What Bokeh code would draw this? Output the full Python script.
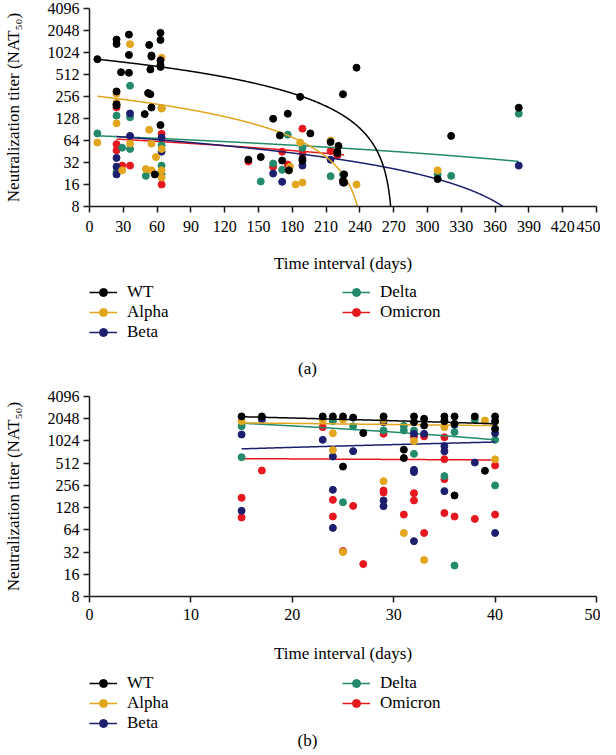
import numpy as np
from bokeh.plotting import figure
from bokeh.layouts import column
from bokeh.models import (Range1d, FixedTicker, Legend, LegendItem, Label,
                          NumeralTickFormatter)
from bokeh.embed import file_html
from bokeh.resources import INLINE

FONT = "Liberation Serif"
series_names = ["WT", "Alpha", "Beta", "Delta", "Omicron"]
series_colors = ["#000000", "#E2A51E", "#1C1F6E", "#238A6C", "#E6171E"]

y_ticks = [8, 16, 32, 64, 128, 256, 512, 1024, 2048, 4096]
a_x_ticks = [0, 30, 60, 90, 120, 150, 180, 210, 240, 270, 300, 330, 360, 390, 420, 450]
b_x_ticks = [0, 10, 20, 30, 40, 50]

# ---------------- panel (a) ----------------
a_wt_x = [7, 24, 24, 35, 35, 28, 35, 24, 24, 24, 53, 55, 55, 54, 52, 54, 55, 49, 58,
          63, 63, 63, 63, 63, 63, 141, 152, 163, 169, 176, 171, 177, 187, 189, 189,
          196, 214, 221, 220, 220, 226, 226, 225, 237, 225, 309, 321, 381]
a_wt_y = [830, 1540, 1340, 1800, 950, 550, 540, 300, 193, 200, 1300, 930, 900, 600, 285, 275, 181, 147, 22,
          1900, 1520, 800, 690, 650, 104, 35, 38, 127, 75, 149, 34, 25, 253, 36, 34,
          80, 61, 54, 43, 45, 22, 17, 18, 635, 275, 19, 74, 180]
a_alpha_x = [7, 24, 24, 24, 29, 36, 36, 53, 50, 55, 55, 59, 64, 64, 64, 64, 64,
             178, 177, 183, 187, 189, 214, 225, 237, 309]
a_alpha_y = [60, 110, 280, 210, 25, 1330, 58, 90, 26, 58, 25, 38, 870, 175, 49, 25, 20,
             28, 25, 16, 60, 17, 64, 18, 16, 25]
a_beta_x = [24, 24, 24, 36, 36, 64, 64, 64, 163, 171, 189, 214, 225, 381]
a_beta_y = [37, 28, 22, 150, 74, 177, 70, 45, 22.6, 17.4, 29, 35, 17, 29]
a_delta_x = [7, 24, 24, 29, 36, 36, 36, 50, 64, 64, 64, 152, 163, 171, 176, 189, 214, 225, 309, 321, 381]
a_delta_y = [80, 140, 24, 51, 360, 133, 49, 21, 55, 29, 22, 17.6, 31, 25.4, 77, 51, 20.8, 22, 22, 21, 149]
a_omicron_x = [24, 24, 24, 29, 36, 64, 64, 141, 163, 171, 176, 189, 189, 214, 220, 226]
a_omicron_y = [181, 57, 47, 29, 29, 79, 16, 33, 28, 45, 30, 93, 43, 46, 40, 17]

# fitted lines (linear fit in titer units): start day, end day, intercept, slope
a_fit_start = [7, 7, 24, 7, 24]
a_fit_end = [381, 309, 381, 381, 226]
a_fit_intercept = [850, 266, 77, 75, 70]
a_fit_slope = [-3.15, -1.085, -0.188, -0.11, -0.13]

# ---------------- panel (b) ----------------
b_wt_x = [15, 17, 23, 24, 25, 25, 26, 27, 29, 31, 31, 32, 32, 33, 33, 35, 35, 36, 36, 36, 38, 39, 40, 40, 40]
b_wt_y = [2200, 2200, 2200, 2200, 2200, 460, 2120, 1310, 2200, 780, 600, 2200, 1840, 2050, 1660,
          2200, 1900, 2200, 1750, 187, 2200, 404, 2200, 1900, 1500]
b_alpha_x = [15, 23, 24, 24, 25, 25, 29, 29, 31, 32, 33, 35, 35, 39, 40, 40]
b_alpha_y = [1900, 1950, 1300, 770, 2000, 32, 1990, 292, 58, 1020, 25, 1940, 1575, 1940, 1850, 577]
b_beta_x = [15, 15, 17, 23, 24, 24, 24, 26, 29, 29, 29, 32, 32, 32, 32, 33, 35, 35, 35, 36, 38, 40, 40]
b_beta_y = [1250, 116, 2000, 1060, 630, 223, 68, 745, 1830, 160, 134, 1280, 416, 388, 45, 1280,
            870, 740, 214, 1700, 523, 1300, 58]
b_delta_x = [15, 15, 24, 25, 26, 29, 31, 31, 32, 32, 35, 36, 36, 38, 40, 40]
b_delta_y = [1620, 617, 1900, 151, 1620, 1420, 1640, 1420, 1420, 685, 342, 1350, 21, 1990, 1060, 256]
b_omicron_x = [15, 15, 17, 23, 24, 24, 25, 26, 27, 29, 29, 29, 31, 32, 32, 32, 33, 33,
               35, 35, 35, 35, 36, 38, 40, 40]
b_omicron_y = [174, 94, 407, 1575, 163, 97, 33, 135, 22, 1280, 218, 205, 103, 1180, 201, 160, 1180, 58,
               1150, 580, 311, 108, 97, 90, 477, 103]

b_fit_start = [15, 15, 15, 15, 15]
b_fit_end = [40, 40, 40, 40, 40]
b_fit_intercept = [2438, 1890, 686, 2212, 605]
b_fit_slope = [-17.2, -6.0, 7.6, -28.8, -1.0]

W = 600
LEFT = 82


def style_axis(ax):
    ax.axis_line_width = 1.5
    ax.axis_line_color = "#1a1a1a"
    ax.major_tick_line_width = 1.5
    ax.major_tick_line_color = "#1a1a1a"
    ax.major_tick_out = 6
    ax.major_tick_in = 0
    ax.minor_tick_line_color = None
    ax.major_label_text_font = FONT
    ax.major_label_text_font_size = "16px"
    ax.major_label_text_color = "black"
    ax.axis_label_text_font = FONT
    ax.axis_label_text_font_size = "17px"
    ax.axis_label_text_font_style = "normal"
    ax.axis_label_text_color = "black"


def make_chart(xs_list, ys_list, fit_start, fit_end, fit_a, fit_b, x_max, x_ticks,
               height, top, frame_w, frame_h, tick_standoff, lab_standoff):
    p = figure(width=W, height=height, output_backend="svg", toolbar_location=None,
               y_axis_type="log", x_range=Range1d(0, x_max), y_range=Range1d(8, 4096),
               min_border_left=LEFT, min_border_top=top,
               min_border_right=W - LEFT - frame_w,
               min_border_bottom=height - top - frame_h)
    p.outline_line_color = None
    p.xgrid.grid_line_color = None
    p.ygrid.grid_line_color = None
    p.background_fill_color = None
    p.border_fill_color = "white"
    style_axis(p.xaxis[0])
    style_axis(p.yaxis[0])
    p.xaxis.ticker = FixedTicker(ticks=x_ticks)
    p.yaxis.ticker = FixedTicker(ticks=y_ticks)
    p.yaxis.formatter = NumeralTickFormatter(format="0")
    p.xaxis.axis_label = "Time interval (days)"
    p.yaxis.axis_label = "Neutralization titer (NAT\u2085\u2080)"
    p.xaxis.major_label_standoff = tick_standoff
    p.yaxis.major_label_standoff = 4
    p.xaxis.axis_label_standoff = lab_standoff
    p.yaxis.axis_label_standoff = 22

    for i in range(len(series_names))[::-1]:
        xs = np.linspace(fit_start[i], fit_end[i], 800)
        ys = fit_a[i] + fit_b[i] * xs
        keep = ys > 1.0
        p.line(xs[keep], ys[keep], line_color=series_colors[i], line_width=1.5)
        p.scatter(xs_list[i], ys_list[i], size=7, marker="circle",
                  fill_color=series_colors[i], line_color=series_colors[i])
    return p


def make_legend(xs_list, ys_list, height, leg1_loc, leg2_loc, caption, cap_x, cap_y):
    # legend strip: the series are plotted outside this strip's visible range, so only
    # the legend entries and the caption show
    q = figure(width=W, height=height, output_backend="svg", toolbar_location=None,
               x_range=Range1d(-2, -1), y_range=Range1d(-2, -1),
               x_axis_location=None, y_axis_location=None,
               min_border=0, min_border_left=0, min_border_right=0,
               min_border_top=0, min_border_bottom=0)
    q.grid.visible = False
    q.outline_line_color = None
    rends = []
    for i in range(len(series_names)):
        lr = q.line(xs_list[i], ys_list[i], line_color=series_colors[i], line_width=1.5)
        sr = q.scatter(xs_list[i], ys_list[i], size=7, marker="circle",
                       fill_color=series_colors[i], line_color=series_colors[i])
        rends.append([lr, sr])

    def mk(idx, loc):
        items = [LegendItem(label=series_names[i], renderers=rends[i], index=0) for i in idx]
        lg = Legend(items=items, location=loc, orientation="vertical",
                    glyph_width=28, glyph_height=20, label_height=20, label_standoff=10,
                    spacing=0, padding=0, margin=0,
                    border_line_alpha=0, background_fill_alpha=0,
                    label_text_font=FONT, label_text_font_size="17px",
                    label_text_color="black")
        q.add_layout(lg, "center")

    mk([0, 1, 2], leg1_loc)
    mk([3, 4], leg2_loc)
    q.add_layout(Label(x=cap_x, y=cap_y, x_units="screen", y_units="screen", text=caption,
                       text_font=FONT, text_font_size="17px", text_align="center",
                       text_baseline="middle", text_color="black"), "center")
    return q


a_xs = [a_wt_x, a_alpha_x, a_beta_x, a_delta_x, a_omicron_x]
a_ys = [a_wt_y, a_alpha_y, a_beta_y, a_delta_y, a_omicron_y]
b_xs = [b_wt_x, b_alpha_x, b_beta_x, b_delta_x, b_omicron_x]
b_ys = [b_wt_y, b_alpha_y, b_beta_y, b_delta_y, b_omicron_y]

p1 = make_chart(a_xs, a_ys, a_fit_start, a_fit_end, a_fit_intercept, a_fit_slope,
                450, a_x_ticks, 280, 8, 514, 198, 8, 19)
l1 = make_legend(a_xs, a_ys, 98, (0, 36), (253, 56), "(a)", 218, 10)

p2 = make_chart(b_xs, b_ys, b_fit_start, b_fit_end, b_fit_intercept, b_fit_slope,
                50, b_x_ticks, 292, 18, 516, 200, 6, 21)
l2 = make_legend(b_xs, b_ys, 79, (0, 16), (253, 36), "(b)", 218, 9)

layout = column(p1, l1, p2, l2, spacing=0)
open("out.html", "w").write(file_html(layout, INLINE))
